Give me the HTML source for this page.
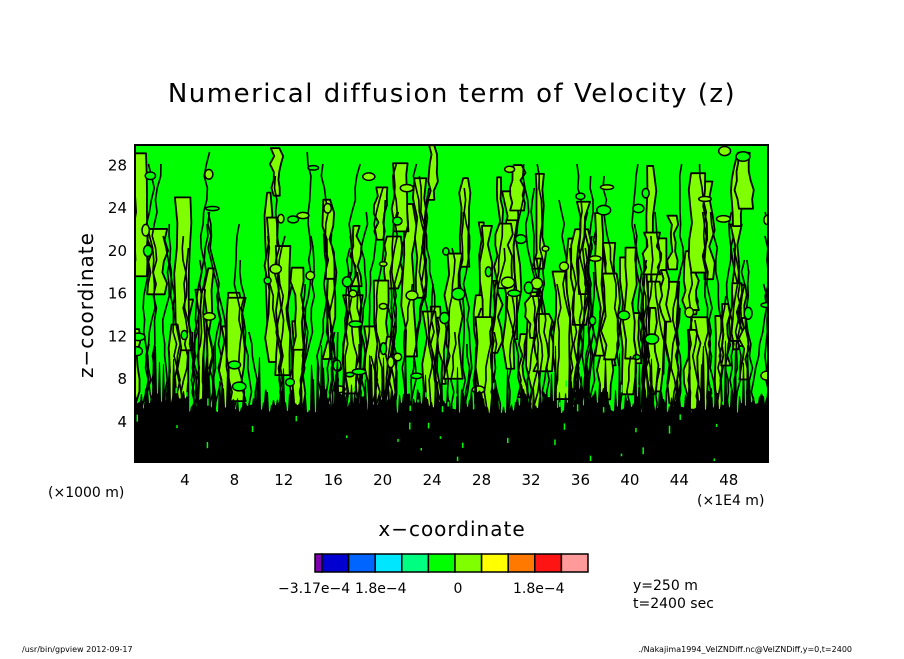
<!DOCTYPE html>
<html><head><meta charset="utf-8"><style>
body{margin:0;background:#fff;}
svg text{font-family:"DejaVu Sans","Liberation Sans",sans-serif;fill:#000;}
</style></head><body>
<svg id="c" width="904" height="654" viewBox="0 0 904 654" xmlns="http://www.w3.org/2000/svg">
<text x="452" y="102" font-size="26" text-anchor="middle" letter-spacing="1.5">Numerical diffusion term of Velocity (z)</text>
<defs><clipPath id="pc"><rect x="135" y="145" width="633" height="317"/></clipPath></defs>
<g id="field" clip-path="url(#pc)">
<rect x="135" y="145" width="633" height="317" fill="#00ff00"/>
</g>
<rect x="135" y="145" width="633" height="317" fill="none" stroke="#000" stroke-width="2"/>
<g id="yt"></g><g id="xt"></g>
<text x="93" y="305" font-size="20" text-anchor="middle" transform="rotate(-90 93 305)" letter-spacing="1">z−coordinate</text>
<text x="452" y="536" font-size="20" text-anchor="middle" letter-spacing="1">x−coordinate</text>
<text x="48" y="497" font-size="14">(×1000 m)</text>
<text x="697" y="505" font-size="14">(×1E4 m)</text>
<g id="cb"></g>
<text x="278" y="593" font-size="14">−3.17e−4</text>
<text x="355" y="593" font-size="14">1.8e−4</text>
<text x="458" y="593" font-size="14" text-anchor="middle">0</text>
<text x="513" y="593" font-size="14">1.8e−4</text>
<text x="633" y="590" font-size="14">y=250 m</text>
<text x="633" y="608" font-size="14">t=2400 sec</text>
<text x="22" y="652" font-size="8">/usr/bin/gpview   2012-09-17</text>
<text x="852" y="652" font-size="8" text-anchor="end">./Nakajima1994_VelZNDiff.nc@VelZNDiff,y=0,t=2400</text>
</svg>
<script>
const yTicks=[4,8,12,16,20,24,28];
const xTicks=[4,8,12,16,20,24,28,32,36,40,44,48];
const cbColors=["#7f00af","#0000d0","#0064ff","#00e6ff","#00ff80","#00ff00","#80ff00","#ffff00","#ff7800","#ff1414","#ff9a9a"];
const NS="http://www.w3.org/2000/svg";
const svg=document.getElementById('c');
function X(v){return 135.5+v*12.36;}
function Y(v){return 463.5-v*10.68;}
function mk(t,a,p){const e=document.createElementNS(NS,t);for(const k in a)e.setAttribute(k,a[k]);p.appendChild(e);return e;}
const yt=document.getElementById('yt');
yTicks.forEach(v=>{const t=mk('text',{x:127,y:Y(v)+6,'font-size':15,'text-anchor':'end'},yt);t.textContent=v;

});
const xt=document.getElementById('xt');
xTicks.forEach(v=>{const t=mk('text',{x:X(v),y:485,'font-size':15,'text-anchor':'middle'},xt);t.textContent=v;

});
const cb=document.getElementById('cb');
let cx=315;
cbColors.forEach((c,i)=>{const w=i==0?7:26.6;const r=mk('rect',{x:cx,y:554,width:w,height:18,fill:c,stroke:'#000','stroke-width':1.5},cb);cx+=w;

});
// contour texture (deterministic)
const f=document.getElementById('field');
let s=7;function rnd(){s=(s*16807)%2147483647;return s/2147483647;}
// light-green wavy patches
for(let i=0;i<90;i++){
  const x=135+rnd()*640, y0=145+rnd()*200, h=40+rnd()*120, w=4+rnd()*12;
  let d=`M${x} ${y0+h}`;
  for(let k=0;k<=6;k++){d+=` L${x-w/2+(rnd()-0.5)*6} ${y0+h-k*h/6}`;}
  for(let k=6;k>=0;k--){d+=` L${x+w/2+(rnd()-0.5)*6} ${y0+h-k*h/6}`;}
  d+='Z';
  const p=mk('path',{d:d,fill:'#80ff00',stroke:'#000','stroke-width':1.8,'stroke-linejoin':'round'},f);
  
  
}
// wavy contour lines
for(let i=0;i<110;i++){
  const x=135+rnd()*640, top=145+rnd()*220;
  let d=`M${x} 462`;let cx2=x;
  for(let y=440;y>top;y-=12){cx2+=(rnd()-0.5)*7;d+=` L${cx2} ${y}`;}
  const p=mk('path',{d:d,fill:'none',stroke:'#000','stroke-width':1.6},f);
  
  
}
for(let i=0;i<70;i++){
  const x=135+rnd()*633,y=150+rnd()*240;
  const e=mk('ellipse',{cx:x,cy:y,rx:3+rnd()*4,ry:2+rnd()*4,fill:rnd()<0.5?'#00ff00':'#80ff00',stroke:'#000','stroke-width':1.5},f);
  
  
}
let d='M135 462';
for(let x=135;x<=770;x+=2){const h=rnd()<0.2?340+rnd()*45:388+rnd()*25;d+=` L${x} ${h} L${x+1} ${h}`;}
d+=' L770 462Z';
const b=mk('path',{d:d,fill:'#000'},f);


for(let i=0;i<45;i++){const r=mk('rect',{x:135+rnd()*633,y:380+rnd()*80,width:1.5,height:2+rnd()*6,fill:'#00ff00'},f);

}
</script>
</body></html>
